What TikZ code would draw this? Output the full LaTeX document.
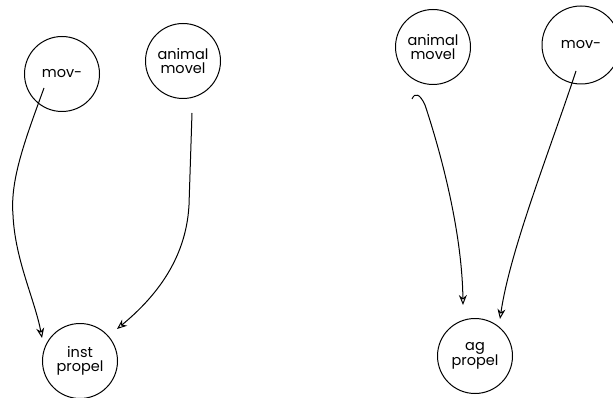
\documentclass[tikz,border=0pt]{standalone}
\usepackage{fontspec}
\setmainfont{Poppins}
\usetikzlibrary{arrows.meta}
\begin{document}
\begin{tikzpicture}[x=1pt,y=-1pt,
  concept/.style={draw,circle,line width=1pt,minimum size=75pt,inner sep=0pt,align=center,font=\fontsize{14.5}{14.5}\selectfont},
  link/.style={line width=1pt,-{Stealth[open,length=10pt,width=8pt,line width=1pt]}}]
\useasboundingbox (0,0) rectangle (613,398);
% left group
\node[concept] (movL) at (62,74) {mov-};
\node[concept] (animL) at (183,61) {animal\\movel};
\node[concept] (inst) at (80,361) {inst\\propel};
% right group
\node[concept] (animR) at (433,47) {animal\\movel};
\node[concept,minimum size=78pt] (movR) at (581,45) {mov-};
\node[concept] (ag) at (475,356) {ag\\propel};
% connector ends
\coordinate (s1) at (44,88);
\coordinate (t1) at (42,338);
\coordinate (s2) at (192,113);
\coordinate (t2) at (117,329);
\coordinate (s3) at (412,99);
\coordinate (t3) at (463,305);
\coordinate (s4) at (576,71);
\coordinate (t4) at (500,319);
\draw[link] (s1) .. controls (25,140) and (10,180) .. (13,215) .. controls (15,260) and (35,300) .. (t1);
\draw[link] (s2) -- (189,205) .. controls (186,262) and (152,300) .. (t2);
\draw[link] (s3) .. controls (415,92) and (420,94) .. (425,105) .. controls (440,150) and (462,230) .. (t3);
\draw[link] (s4) .. controls (550,150) and (510,250) .. (t4);
\end{tikzpicture}
\end{document}
